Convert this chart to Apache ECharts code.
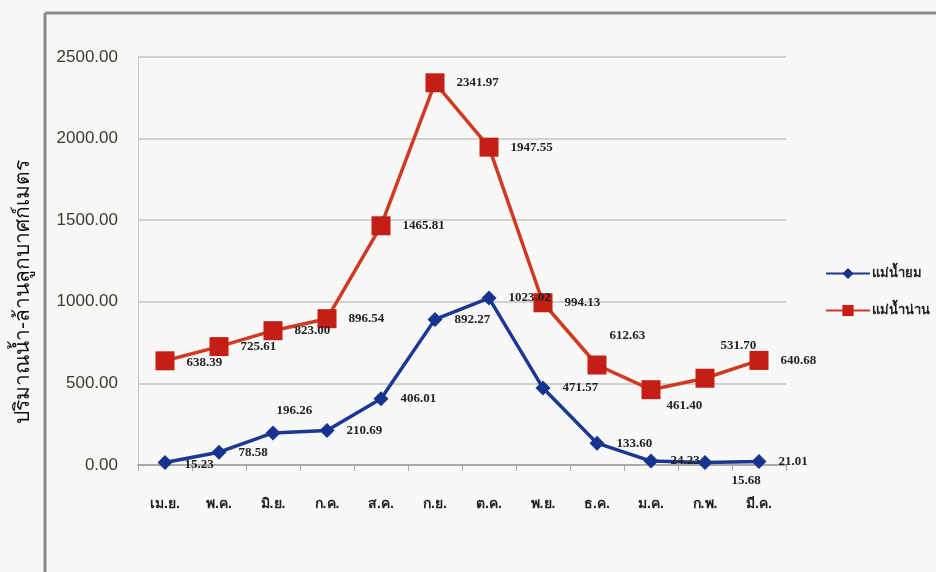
<!DOCTYPE html>
<html>
<head>
<meta charset="utf-8">
<script src="https://cdn.jsdelivr.net/npm/echarts@6/dist/echarts.min.js"></script>
<style>
html,body{margin:0;padding:0;background:#f8f8f6;}
#c{width:936px;height:572px;}
</style>
</head>
<body>
<div id="c"></div>
<script>
const months = ['เม.ย.','พ.ค.','มิ.ย.','ก.ค.','ส.ค.','ก.ย.','ต.ค.','พ.ย.','ธ.ค.','ม.ค.','ก.พ.','มี.ค.'];
const yomName = 'แม่น้ำยม';
const nanName = 'แม่น้ำน่าน';
const yomValues = [15.23, 78.58, 196.26, 210.69, 406.01, 892.27, 1023.02, 471.57, 133.60, 24.23, 15.68, 21.01];
const nanValues = [638.39, 725.61, 823.00, 896.54, 1465.81, 2341.97, 1947.55, 994.13, 612.63, 461.40, 531.70, 640.68];
const yTicks = [0, 500, 1000, 1500, 2000, 2500];
const yAxisTitle = 'ปริมาณน้ำ-ล้านลูกบาศก์เมตร';

// label offsets (styling only)
const yomLabelOffset = [[0,2],[0,0],[-16,-22],[0,0],[0,0],[0,0],[0,0],[0,0],[0,0],[0,0],[7,18],[0,0]];
const nanLabelOffset = [[0,2],[0,0],[0,0],[0,0],[0,0],[0,0],[0,0],[0,0],[-9,-29],[-6,16],[-6,-33],[0,0]];

const labelStyle = {
  show: true, position: 'right', distance: 12,
  fontFamily: 'Liberation Serif', fontSize: 13, fontWeight: 'bold', color: '#222',
  formatter: p => p.value.toFixed(2)
};

function build(values, offsets) {
  return values.map((v, i) => ({ value: v, label: { offset: offsets[i] } }));
}

const chart = echarts.init(document.getElementById('c'));
chart.setOption({
  backgroundColor: '#f8f8f6',
  animation: false,
  graphic: [
    { type: 'line', shape: { x1: 45, y1: 13, x2: 936, y2: 13 }, style: { stroke: '#8c8c8c', lineWidth: 3 } },
    { type: 'line', shape: { x1: 45, y1: 13, x2: 45, y2: 572 }, style: { stroke: '#8c8c8c', lineWidth: 3 } }
  ],
  grid: { left: 138, right: 150, top: 57, bottom: 107 },
  legend: {
    orient: 'vertical', left: 820, top: 262, itemGap: 24,
    itemWidth: 44, itemHeight: 14,
    textStyle: { fontSize: 13, color: '#222', fontWeight: 'bold', padding: [0, 0, 0, -3] },
    data: [yomName, nanName]
  },
  xAxis: {
    type: 'category', data: months, boundaryGap: true,
    axisLine: { lineStyle: { color: '#a8a8a8', width: 2 } },
    axisTick: { show: true, length: 6, lineStyle: { color: '#a8a8a8' } },
    axisLabel: { margin: 32, fontSize: 14, color: '#222', fontWeight: 'bold' }
  },
  yAxis: {
    type: 'value', min: yTicks[0], max: yTicks[yTicks.length - 1], interval: 500,
    name: yAxisTitle, nameLocation: 'middle', nameGap: 104,
    nameTextStyle: { fontSize: 21, color: '#111', padding: [0, 62, 0, 0] },
    axisLine: { show: true, lineStyle: { color: '#c8c8c8', width: 1 } },
    axisTick: { show: false },
    splitLine: { lineStyle: { color: '#c4c4c4', width: 1.5 } },
    axisLabel: { margin: 20, fontSize: 17, color: '#3a3a30', formatter: v => v.toFixed(2) }
  },
  series: [
    {
      name: yomName, type: 'line', data: build(yomValues, yomLabelOffset),
      symbol: 'diamond', symbolSize: 15,
      lineStyle: { color: '#1c3894', width: 3.5 },
      itemStyle: { color: '#16348f' },
      label: labelStyle, z: 3
    },
    {
      name: nanName, type: 'line', data: build(nanValues, nanLabelOffset),
      symbol: 'rect', symbolSize: 19,
      lineStyle: { color: '#d03a22', width: 3.5 },
      itemStyle: { color: '#c41e16' },
      label: labelStyle, z: 2
    }
  ]
});
</script>
</body>
</html>
